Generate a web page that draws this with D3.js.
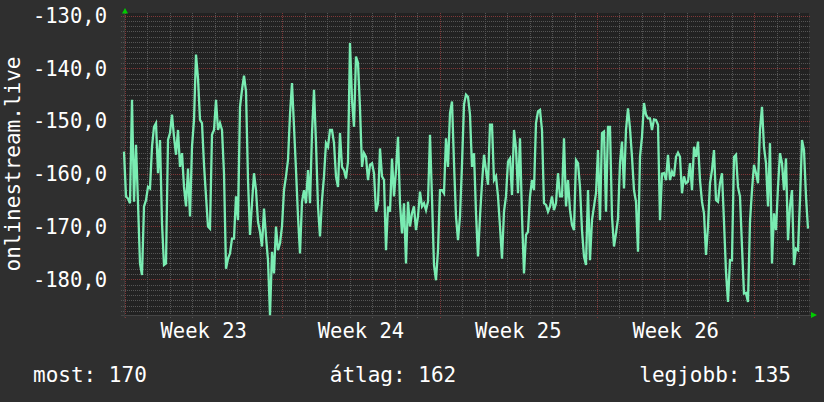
<!DOCTYPE html>
<html><head><meta charset="utf-8">
<script src="https://cdn.jsdelivr.net/npm/d3@7"></script>
<style>html,body{margin:0;padding:0;background:#2f2f2f;} svg{display:block}</style>
</head><body><svg id="c" width="824" height="402"></svg>
<script>
// ---- data ----
const seriesName = "onlinestream.live";
const firstSample = Date.UTC(2024, 5, 3) - 1.068 * 3600e3; // sample time of first value
const stepHours = 2.1356;
const values = [
-155.8,-164.3,-164.7,-165.6,-146.0,-165.3,-154.5,-165.6,-177.0,-179.2,
-166.2,-165.0,-162.5,-162.8,-154.9,-151.1,-150.4,-159.9,-153.6,-169.4,
-177.3,-177.0,-153.6,-152.3,-148.8,-153.0,-156.4,-151.7,-158.7,-156.1,
-162.5,-166.2,-159.0,-168.1,-154.9,-149.8,-137.4,-141.9,-149.8,-150.4,
-158.3,-164.3,-170.0,-170.4,-152.6,-151.7,-146.0,-151.7,-150.4,-151.7,
-159.9,-178.0,-176.1,-175.1,-172.3,
-172.3,-164.3,-168.8,-147.3,-144.1,-141.4,-144.4,-161.2,-171.6,-165.6,
-159.9,-163.1,-169.1,-171.0,-173.8,-166.6,-171.9,-176.4,-186.8,-174.8,
-178.9,-170.0,-174.5,-173.2,-170.0,-163.1,-160.5,-157.4,-148.8,-142.8,
-151.1,-159.3,-168.1,-175.1,-165.3,-163.1,-165.6,-159.3,-165.6,-152.3,
-144.1,-154.2,-166.2,-171.9,-165.0,-160.5,-154.2,-154.9,-151.7,-151.7,
-154.2,-160.5,-162.5,-152.3,-158.7,-159.3,-160.9,
-157.7,-135.2,-146.0,-151.1,-137.8,-139.0,-147.6,-158.7,-156.1,-156.8,
-161.2,-158.3,-158.0,-159.9,-167.2,-165.6,-155.2,-160.5,-161.2,-174.5,
-166.2,-167.2,-157.1,-164.3,-159.3,-153.0,-165.6,-171.3,-165.6,-177.0,
-165.3,-170.0,-167.5,-166.2,-170.7,-168.1,-163.4,-166.2,-165.6,-166.9,
-165.3,-152.6,-164.7,-177.3,-180.2,-174.5,-163.1,-163.1,-163.7,-153.3,
-158.7,-148.5,-146.3,-158.0,-168.1,-172.6,-168.1,
-158.3,-146.9,-145.0,-145.4,-148.8,-158.7,-156.1,-167.5,-175.7,-168.1,
-161.8,-156.4,-159.3,-162.1,-150.7,-150.7,-161.2,-160.5,-164.3,-170.0,
-176.1,-167.2,-164.3,-157.7,-157.1,-164.0,-151.7,-155.2,-163.7,-153.3,
-168.1,-178.9,-171.6,-171.0,-164.3,-161.2,-163.1,-150.4,-148.2,-147.9,
-151.7,-165.6,-165.9,-167.2,-166.2,-164.3,-166.9,-165.6,-159.9,-164.3,
-164.3,-153.3,-166.2,-161.2,-166.9,-169.7,-170.7,
-157.4,-158.0,-162.5,-170.7,-175.7,-177.3,-163.1,-176.4,-168.8,-166.2,
-163.7,-155.5,-168.8,-152.3,-152.0,-167.2,-151.1,-151.1,-168.1,-173.8,
-171.3,-168.5,-158.0,-153.9,-162.8,-151.7,-147.6,-151.4,-156.8,-163.1,
-165.3,-174.8,-156.8,-153.0,-146.6,-148.8,-149.5,-149.5,-151.7,-149.7,
-149.8,-150.7,-168.8,-160.0,-159.9,-161.2,-156.4,-161.2,-159.6,-160.5,
-156.8,-156.0,-156.8,-163.7,-160.5,-161.8,-161.5,
-158.0,-163.1,-154.9,-156.8,-153.9,-161.2,-165.3,-167.5,-175.4,-170.0,
-161.8,-159.3,-155.5,-165.0,-165.3,-161.8,-159.9,-169.1,-178.6,-184.3,
-176.4,-176.4,-156.8,-156.4,-162.5,-164.3,-173.8,-182.7,-182.6,-184.3,
-169.1,-163.1,-158.3,-159.9,-161.8,-151.7,-147.3,-154.9,-158.0,-166.2,
-154.2,-177.0,-167.5,-170.7,-162.5,-156.1,-158.0,-163.1,-157.1,-172.6,
-166.2,-163.1,-177.3,-174.2,-174.5,-165.0,-153.6,-155.5,-164.3,-170.4
];
const yTicks = [-130, -140, -150, -160, -170, -180];
const yDomain = [-186.78, -130];
const timeDomain = [Date.UTC(2024, 5, 3) - 1.068 * 3600e3, Date.UTC(2024, 5, 3) + 30.433 * 86400e3];
const legendLabels = ["most: 170", "átlag: 162", "legjobb: 135"];

// ---- drawing ----
const svg = d3.select("#c");
const W = 824, H = 402;
const L = 124, R = 809, T = 15.5, B = 315;
const FONT = "'DejaVu Sans Mono', monospace";

svg.append("rect").attr("width", W).attr("height", H).attr("fill", "#2f2f2f");
svg.append("rect").attr("x", L).attr("y", 13).attr("width", R - L).attr("height", B - 13).attr("fill", "#222222");

const x = d3.scaleUtc().domain(timeDomain.map(d => new Date(d))).range([L, R]);
const y = d3.scaleLinear().domain(yDomain).range([B, T]);

const locale = d3.formatLocale({decimal: ",", thousands: ".", grouping: [3], currency: ["", ""], minus: "-"});
const fmt = locale.format(".1f");

const data = values.map((v, i) => ({t: new Date(firstSample + i * stepHours * 3600e3), v}));

// horizontal grid
const g = svg.append("g");
d3.range(Math.ceil(yDomain[0]), yDomain[1] + 1).forEach(v => {
  const yy = Math.round(y(v)) + 0.5;
  const major = v % 10 === 0;
  g.append("line").attr("x1", L - 3).attr("x2", R + 2).attr("y1", yy).attr("y2", yy)
    .attr("stroke", major ? "#803838" : "#555555").attr("stroke-width", 1)
    .attr("stroke-dasharray", "1,1");
});
// vertical grid
x.ticks(d3.utcDay.every(1)).forEach(d => {
  const xx = Math.round(x(d)) + 0.5;
  const major = d.getUTCDay() === 1;
  g.append("line").attr("x1", xx).attr("x2", xx).attr("y1", 13).attr("y2", B + 3)
    .attr("stroke", major ? "#803838" : "#555555").attr("stroke-width", 1)
    .attr("stroke-dasharray", "1,1");
});

// axes lines
svg.append("line").attr("x1", L - 3).attr("x2", R + 3).attr("y1", B + 0.5).attr("y2", B + 0.5)
  .attr("stroke", "#454545");
svg.append("line").attr("x1", L + 0.5).attr("x2", L + 0.5).attr("y1", 12).attr("y2", B + 3)
  .attr("stroke", "#3a3a3a");
// arrows
svg.append("path").attr("d", `M${L - 2},${13.5}L${L + 4},${13.5}L${L + 1},${8}Z`).attr("fill", "#00cc00");
svg.append("path").attr("d", `M${R + 2},${B - 3}L${R + 2},${B + 3}L${R + 8},${B}Z`).attr("fill", "#00cc00");

// line
const line = d3.line().x(d => x(d.t)).y(d => y(d.v)).curve(d3.curveLinear);
svg.append("path").datum(data).attr("d", line).attr("fill", "none")
  .attr("stroke", "#7aecb2").attr("stroke-width", 2.3).attr("stroke-linejoin", "miter");

// y labels
yTicks.forEach(v => {
  svg.append("text").attr("x", 107).attr("y", y(v) + 7.5).attr("text-anchor", "end")
    .attr("font-family", FONT).attr("font-size", 20.5).attr("fill", "#ffffff").text(fmt(v));
});

// week labels
const weekFmt = d3.utcFormat("Week %V");
d3.utcMonday.range(d3.utcMonday.floor(x.domain()[0]), x.domain()[1]).forEach(m => {
  const mid = new Date(+m + 3.5 * 86400e3);
  if (mid >= x.domain()[0] && mid <= x.domain()[1]) {
    svg.append("text").attr("x", x(mid)).attr("y", 338).attr("text-anchor", "middle")
      .attr("font-family", FONT).attr("font-size", 20.5).attr("fill", "#ffffff").text(weekFmt(m));
  }
});

// axis title
svg.append("text").attr("transform", "translate(20,164) rotate(-90)").attr("text-anchor", "middle")
  .attr("font-family", FONT).attr("font-size", 21).attr("fill", "#ffffff").text(seriesName);

// legend
const anchors = [["start", 33], ["middle", 393], ["end", 791]];
legendLabels.forEach((s, i) => {
  svg.append("text").attr("x", anchors[i][1]).attr("y", 382).attr("text-anchor", anchors[i][0])
    .attr("font-family", FONT).attr("font-size", 21).attr("fill", "#ffffff").text(s);
});
</script></body></html>
